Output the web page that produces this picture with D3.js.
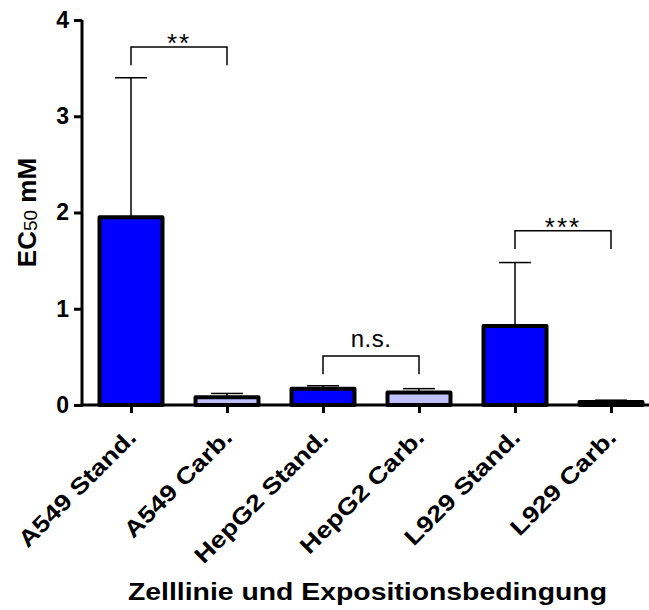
<!DOCTYPE html>
<html>
<head>
<meta charset="utf-8">
<script src="https://cdn.jsdelivr.net/npm/d3@7"></script>
<style>
  html, body { margin: 0; padding: 0; background: #fff; }
  svg { display: block; font-family: "Liberation Sans", Arial, sans-serif; }
</style>
</head>
<body>
<script>
// ** data
const categories = ["A549 Stand.", "A549 Carb.", "HepG2 Stand.", "HepG2 Carb.", "L929 Stand.", "L929 Carb."];
const means = [1.95, 0.08, 0.17, 0.13, 0.82, 0.03];
const errors = [1.45, 0.04, 0.03, 0.04, 0.66, 0.02];
const conditions = ["Stand.", "Carb.", "Stand.", "Carb.", "Stand.", "Carb."];
const yTicks = [0, 1, 2, 3, 4];
// significance brackets: [from, to, top, legBottom, label]
const brackets = [
  ["A549 Stand.", "A549 Carb.", 3.72, 3.53, "**"],
  ["HepG2 Stand.", "HepG2 Carb.", 0.51, 0.32, "n.s."],
  ["L929 Stand.", "L929 Carb.", 1.81, 1.62, "***"]
];

const width = 649, height = 610;
const font = "Liberation Sans, Arial, sans-serif";
const svg = d3.select("body").append("svg")
  .attr("width", width)
  .attr("height", height);

const x = d3.scalePoint().domain(categories).range([83, 659]).padding(0.5);
const y = d3.scaleLinear().domain([0, 4]).range([405, 20]);
const barW = 63;
const fill = d3.scaleOrdinal().domain(["Stand.", "Carb."]).range(["#0000ff", "#c0c0ff"]);

const rows = categories.map((c, i) => ({ c, m: means[i], e: errors[i], k: conditions[i] }));

// error bars (upper only), drawn behind bars
const eb = svg.append("g").attr("stroke", "#000").attr("stroke-width", 1.5);
eb.selectAll("line.v").data(rows).join("line")
  .attr("x1", d => x(d.c)).attr("x2", d => x(d.c))
  .attr("y1", d => y(d.m)).attr("y2", d => y(d.m + d.e));
eb.selectAll("line.cap").data(rows).join("line")
  .attr("x1", d => x(d.c) - 16).attr("x2", d => x(d.c) + 16)
  .attr("y1", d => y(d.m + d.e)).attr("y2", d => y(d.m + d.e));

// bars
svg.append("g").selectAll("rect").data(rows).join("rect")
  .attr("x", d => x(d.c) - barW / 2)
  .attr("y", d => y(d.m))
  .attr("width", barW)
  .attr("height", d => y(0) - y(d.m))
  .attr("fill", d => fill(d.k))
  .attr("stroke", "#000")
  .attr("stroke-width", 4)
  .attr("stroke-linejoin", "round");

// y axis
const yAxis = svg.append("g")
  .attr("transform", "translate(82,0)")
  .call(d3.axisLeft(y).tickValues(yTicks).tickFormat(d3.format("d")).tickSize(8).tickPadding(5));
yAxis.select(".domain").attr("stroke-width", 3).attr("d", `M0,${y(4)}V${y(0) + 1.5}`);
yAxis.selectAll(".tick line").attr("stroke-width", 3);
yAxis.selectAll(".tick text")
  .attr("font-size", 23).attr("font-weight", "bold").attr("fill", "#000")
  .attr("font-family", font);

// x axis
const xAxis = svg.append("g")
  .attr("transform", `translate(0,${y(0)})`)
  .call(d3.axisBottom(x).tickSize(8).tickSizeOuter(0));
xAxis.select(".domain").attr("stroke-width", 3).attr("d", `M80.5,0H${width}`);
xAxis.selectAll(".tick line").attr("stroke-width", 3);
xAxis.selectAll(".tick text")
  .attr("font-size", 23).attr("font-weight", "bold").attr("fill", "#000")
  .attr("font-family", font)
  .attr("text-anchor", "end")
  .attr("x", 0).attr("y", 0).attr("dy", 0)
  .attr("transform", "translate(6,34) rotate(-45) scale(1.18,1)");

// significance brackets
const br = svg.append("g");
brackets.forEach(([a, b, top, leg, label]) => {
  br.append("path")
    .attr("d", `M${x(a)},${y(leg)}V${y(top)}H${x(b)}V${y(leg)}`)
    .attr("fill", "none").attr("stroke", "#000").attr("stroke-width", 1.5);
  const ns = label === "n.s.";
  br.append("text")
    .attr("x", (x(a) + x(b)) / 2)
    .attr("y", y(top) + (ns ? -9 : 5))
    .attr("text-anchor", "middle")
    .attr("font-size", ns ? 24 : 26)
    .attr("letter-spacing", ns ? 0.5 : 2)
    .text(label);
});

// axis titles
const yt = svg.append("text")
  .attr("transform", `translate(36,${(y(0) + y(4)) / 2}) rotate(-90)`)
  .attr("text-anchor", "middle")
  .attr("font-size", 26).attr("font-weight", "bold");
yt.append("tspan").text("EC");
yt.append("tspan").attr("font-size", 19).attr("font-weight", "normal").attr("dy", 1).text("50");
yt.append("tspan").attr("dy", -1).text(" mM");

svg.append("text")
  .attr("x", 128).attr("y", 600)
  .attr("font-size", 23).attr("font-weight", "bold")
  .attr("textLength", 479)
  .attr("lengthAdjust", "spacingAndGlyphs")
  .text("Zelllinie und Expositionsbedingung");
</script>
</body>
</html>
